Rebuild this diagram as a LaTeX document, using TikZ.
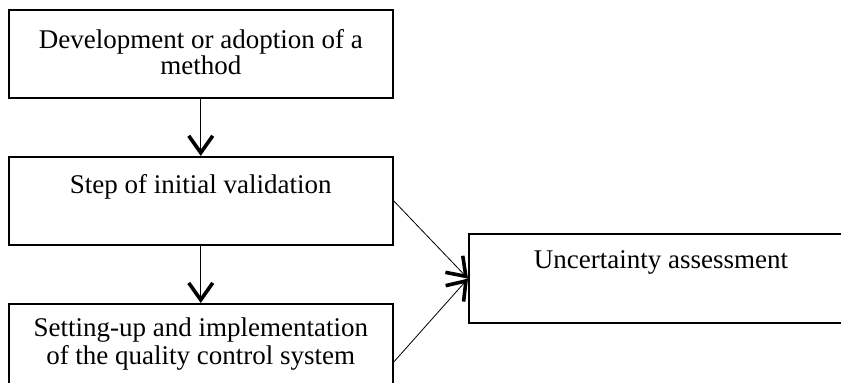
\documentclass[tikz,border=0pt]{standalone}
\usepackage{fontspec}
\setmainfont{Liberation Serif}
\usetikzlibrary{arrows.meta}

\tikzset{
  blockbox/.style={draw, line width=2pt, minimum width=384pt, inner sep=0pt},
  blocktext/.style={font=\fontsize{27}{24}\selectfont, align=center, inner sep=0pt},
  flowarrow/.style={line width=0.8pt, -{Straight Barb[length=17pt,width=24pt,line width=3.6pt]}}
}

\begin{document}
\begin{tikzpicture}[x=1pt,y=-1pt]
\useasboundingbox (0,0) rectangle (841,383);
\clip (0,0) rectangle (841,383);

% boxes
\node[blockbox, minimum height=88pt] (dev) at (200.75,53.5) {};
\node[blockbox, minimum height=88pt] (step) at (200.75,200.9) {};
\node[blockbox, minimum height=116pt] (qual) at (200.75,362) {};
\node[blockbox, minimum height=89pt] (unc) at (661,278.6) {};

% texts (base = last line)
\node[blocktext, anchor=base] (devtext) at (200.75,74)
    {Development or adoption of a\\method};
\node[blocktext, anchor=base] (steptext) at (200.75,193)
    {Step of initial validation};
\node[blocktext, font=\fontsize{27}{27.6}\selectfont, anchor=base] (qualtext)
    at (200.75,364.3)
    {Setting-up and implementation\\of the quality control system};
\node[blocktext, anchor=base] (unctext) at (661,268.3)
    {Uncertainty assessment};

% connectors
\draw[flowarrow] (dev) -- (step);
\draw[flowarrow] (step) -- (qual);
\draw[flowarrow] (step.east) -- (unc.west);
\draw[flowarrow] (qual.east) -- (unc.west);
\end{tikzpicture}
\end{document}
